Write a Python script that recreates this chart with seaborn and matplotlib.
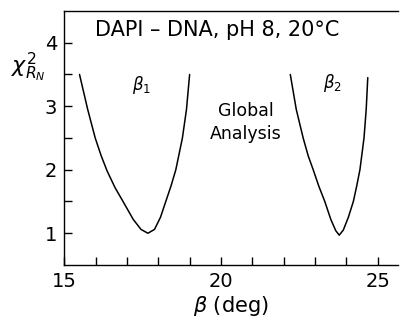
import numpy as np
import pandas as pd
import seaborn as sns
import matplotlib.pyplot as plt
from matplotlib.ticker import MultipleLocator, FixedLocator

# points
beta1_x = [15.49, 15.75, 15.99, 16.18, 16.37, 16.62, 16.90, 17.20, 17.45, 17.67, 17.88, 18.07, 18.24, 18.41, 18.56, 18.77, 18.90, 19.00]
beta1_y = [3.50, 2.95, 2.50, 2.22, 1.98, 1.72, 1.48, 1.22, 1.06, 1.00, 1.06, 1.25, 1.50, 1.75, 2.00, 2.50, 2.95, 3.50]

beta2_x = [22.21, 22.40, 22.62, 22.78, 22.94, 23.12, 23.31, 23.50, 23.66, 23.77, 23.90, 24.06, 24.22, 24.33, 24.43, 24.56, 24.63, 24.68]
beta2_y = [3.50, 2.95, 2.50, 2.22, 2.00, 1.74, 1.50, 1.22, 1.04, 0.97, 1.05, 1.25, 1.50, 1.75, 2.00, 2.50, 2.95, 3.45]

x_ticklabels = [15, 20, 25]
y_ticklabels = [1, 2, 3, 4]

df = pd.concat([
    pd.DataFrame({'beta': beta1_x, 'chi2': beta1_y, 'curve': 'b1'}),
    pd.DataFrame({'beta': beta2_x, 'chi2': beta2_y, 'curve': 'b2'}),
])

sns.set_style('ticks')
plt.rcParams['font.family'] = ['DejaVu Sans']
plt.rcParams['text.color'] = 'black'
plt.rcParams['axes.labelcolor'] = 'black'
plt.rcParams['xtick.color'] = 'black'
plt.rcParams['ytick.color'] = 'black'

fig = plt.figure(figsize=(4.01, 3.22), dpi=100)
ax = fig.add_axes([0.160, 0.177, 0.833, 0.789])

for name, g in df.groupby('curve'):
    sns.lineplot(data=g, x='beta', y='chi2', sort=False, color='black', lw=1.1, ax=ax, estimator=None)

ax.set_xlim(15, 25.65)
ax.set_ylim(0.5, 4.5)

ax.set_xticks(x_ticklabels)
ax.set_xticklabels([str(v) for v in x_ticklabels])
ax.xaxis.set_minor_locator(MultipleLocator(1))
ax.set_yticks(y_ticklabels)
ax.set_yticklabels([str(v) for v in y_ticklabels])
ax.yaxis.set_minor_locator(FixedLocator([1.5, 2.5, 3.5]))

ax.tick_params(axis='both', which='both', direction='in', width=1.0, color='black', labelsize=14, pad=5)
ax.tick_params(axis='both', which='major', length=6)
ax.tick_params(axis='both', which='minor', length=6)

ax.spines['right'].set_visible(False)
for s in ['left', 'bottom', 'top']:
    ax.spines[s].set_linewidth(1.0)
    ax.spines[s].set_color('black')

ax.set_xlabel(r'$\beta$ (deg)', fontsize=15, labelpad=2)
ax.set_ylabel('')
fig.text(0.072, 0.79, r'$\chi^2_{R_N}$', fontsize=16, ha='center', va='center')

ax.text(19.87, 4.2, 'DAPI \u2013 DNA, pH 8, 20°C', fontsize=15, ha='center', va='center')
ax.text(17.47, 3.33, r'$\beta_1$', fontsize=12, ha='center', va='center')
ax.text(23.56, 3.36, r'$\beta_2$', fontsize=12, ha='center', va='center')
ax.text(20.8, 2.75, 'Global\nAnalysis', fontsize=12.5, ha='center', va='center', linespacing=1.35)

fig.savefig('out.png', dpi=100)
